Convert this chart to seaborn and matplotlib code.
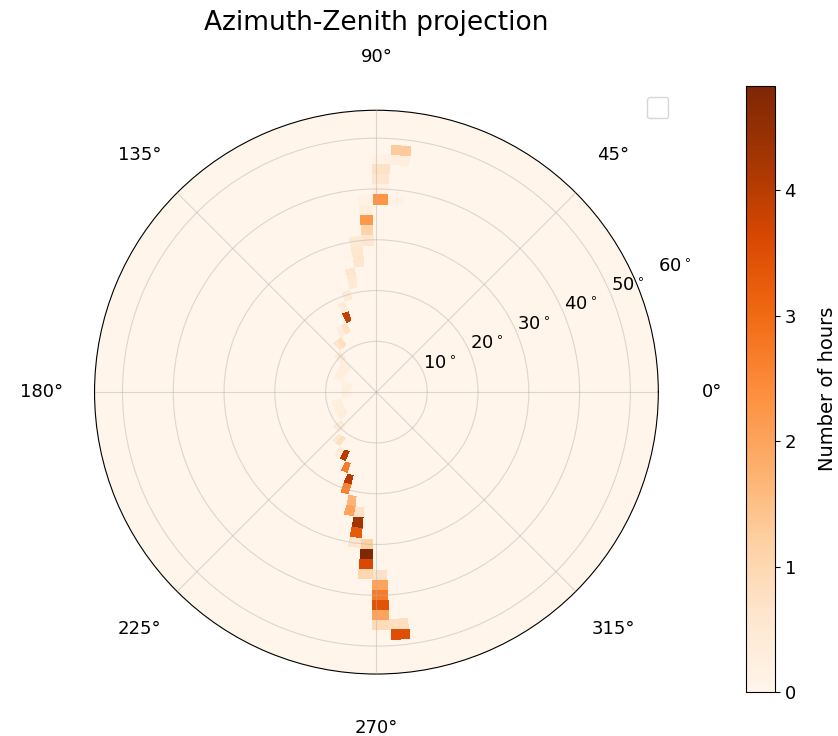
import numpy as np
import matplotlib
matplotlib.use("Agg")
import matplotlib.pyplot as plt
import seaborn as sns

# hours the sun spent in each (azimuth, zenith) cell
azimuth_deg = [84.3, 84.3, 84.3, 88.9, 88.9, 88.9, 88.9, 88.9, 93.4, 93.4,
               93.4, 93.4, 93.4, 98.0, 98.0, 98.0, 102.5, 102.5, 107.1, 111.6,
               111.6, 116.2, 120.8, 125.3, 129.9, 134.4, 139.0,
               139.0, 143.5, 148.1, 152.7, 157.2, 161.8, 161.8, 166.3, 170.9, 175.4,
               180.0, 184.6, 189.1, 193.7, 198.2, 202.8, 207.3, 211.9, 216.5, 221.0,
               225.6, 230.1, 234.7, 239.2,
               243.8, 248.4, 252.9, 252.9, 257.5, 257.5, 262.0, 262.0, 262.0, 262.0,
               266.6, 266.6, 266.6, 266.6, 271.1, 271.1, 271.1, 271.1, 271.1, 271.1,
               275.7, 275.7]
zenith_deg = [48, 46, 38, 46, 44, 42, 40, 38, 38, 36,
              34, 32, 30, 30, 28, 26, 24, 22, 20, 18,
              16, 14, 14, 12, 12, 10, 10,
              8, 8, 8, 8, 8, 8, 6, 6, 6, 6,
              6, 6, 6, 8, 8, 8, 8, 8, 8, 10,
              10, 12, 12, 14,
              14, 16, 18, 20, 22, 24, 24, 26, 28, 30,
              30, 32, 34, 36, 36, 38, 40, 42, 44, 46,
              46, 48]
hours = [1.3, 0.3, 0.15, 0.15, 0.7, 0.6, 0.2, 2.3, 0.15, 0.3,
         2.2, 1.1, 0.6, 0.5, 0.6, 0.6, 0.6, 0.5, 0.45, 0.4,
         3.9, 0.7, 0.3, 0.8, 0.6, 0.45, 0.4,
         0.25, 0.3, 0.3, 0.3, 0.25, 0.2, 0.1, 0.25, 0.25, 0.25,
         0.25, 0.25, 0.2, 0.25, 0.3, 0.3, 0.3, 0.35, 0.3, 0.5,
         0.35, 0.5, 0.8, 0.4,
         4.0, 2.7, 4.0, 2.6, 1.7, 2.0, 0.7, 4.3, 3.3, 0.6,
         1.2, 4.8, 3.6, 1.0, 0.7, 2.0, 2.7, 3.4, 2.0, 0.9,
         0.8, 3.5]

az_edges = np.linspace(0, 360, 80)
zen_edges = np.arange(1, 57, 2)
ring_ticks = [10, 20, 30, 40, 50, 60]
hours_max = 4.83

counts, _, _ = np.histogram2d(azimuth_deg, zenith_deg,
                              bins=[az_edges, zen_edges], weights=hours)

cmap = sns.color_palette("Oranges", as_cmap=True)

fig = plt.figure(figsize=(8.38, 7.36), dpi=100)
ax = fig.add_axes([0.1127, 0.0842, 0.673, 0.766], projection="polar")
cax = fig.add_axes([0.890, 0.0598, 0.0346, 0.823])

ax.set_facecolor(cmap(0.0))
mesh = ax.pcolormesh(np.radians(az_edges), zen_edges, counts.T,
                     cmap=cmap, vmin=0, vmax=hours_max, shading="flat")
ax.set_ylim(0, 55.5)

ax.set_rgrids(ring_ticks[:-1], labels=[f"{r}$^\\circ$" for r in ring_ticks[:-1]],
              fontsize=13)
ax.text(np.radians(22.5), ring_ticks[-1], f"{ring_ticks[-1]}$^\\circ$",
        fontsize=13, ha="left", va="bottom", clip_on=False)
ax.tick_params(axis="x", labelsize=13, pad=28)
ax.grid(True, color="#b0b0b0", alpha=0.45, linewidth=0.8)
ax.set_axisbelow(False)

ax.set_title("Azimuth-Zenith projection", fontsize=19, pad=13)
ax.legend(loc="upper right", bbox_to_anchor=(1.03, 1.035), borderpad=0.75)

cbar = fig.colorbar(mesh, cax=cax)
cbar.set_label("Number of hours", fontsize=14, labelpad=16)
cbar.ax.tick_params(labelsize=13)

fig.savefig("out.png", dpi=100)
